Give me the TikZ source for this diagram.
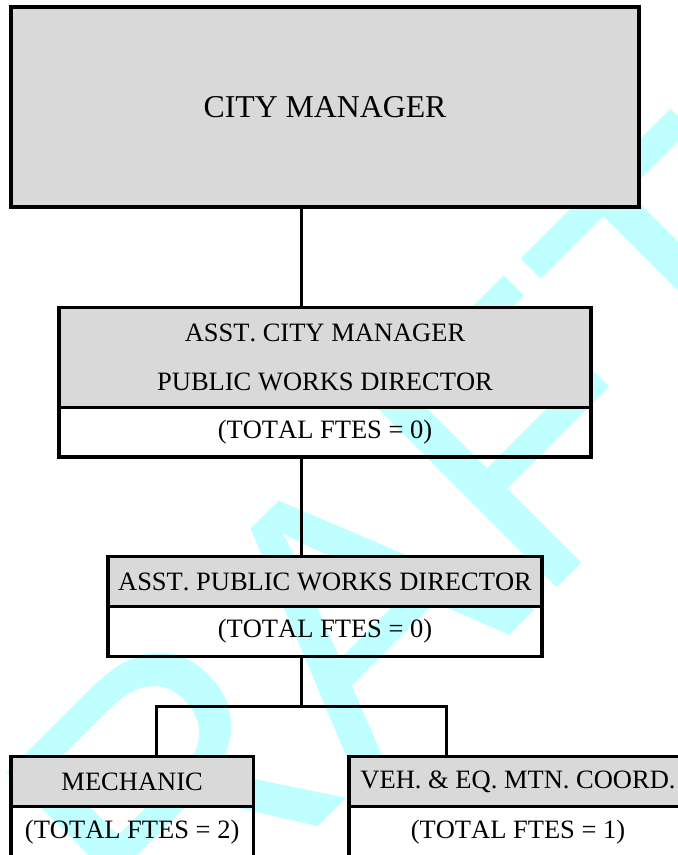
\documentclass[tikz,border=0pt]{standalone}
\usepackage{fontspec}
\setmainfont[Kerning=Off]{Liberation Serif}
\newfontfamily\wmfont[Kerning=Off]{Liberation Sans}
\definecolor{boxgray}{RGB}{217,217,217}
\definecolor{wmcyan}{RGB}{191,255,255}
\begin{document}
\begin{tikzpicture}[x=1pt,y=1pt,
  conn/.style={line width=2.9pt, draw=black},
  boxbase/.style={draw=black, line width=3.1pt, inner sep=0pt, outer sep=0pt,
    anchor=north west, align=center, font=\fontsize{26.5}{49.3}\selectfont},
  graybox/.style={boxbase, fill=boxgray},
  whitebox/.style={boxbase},
  watermark/.style={font=\wmfont\fontsize{375}{375}\selectfont, text=wmcyan,
    rotate=45, anchor=base, inner sep=0pt, outer sep=0pt}
]
\useasboundingbox (0,0) rectangle (678,855);
\clip (0,0) rectangle (678,855);

% watermark
\node[watermark] (wm) at (417.5,127.5) {DRAFT};

% boxes
\node[graybox, font=\fontsize{31.8}{36}\selectfont, minimum width=628pt, minimum height=200pt] (cm) at (11,848) {CITY MANAGER};

\node[graybox, minimum width=532pt, minimum height=100pt] (acm) at (59,547.5) {ASST. CITY MANAGER\\PUBLIC WORKS DIRECTOR};
\node[whitebox, minimum width=532pt, minimum height=49.5pt] (acmw) at (acm.south west) {(TOTAL FTES = 0)};

\node[graybox, minimum width=434pt, minimum height=50.5pt] (apwd) at (108,298.7) {ASST. PUBLIC WORKS DIRECTOR};
\node[whitebox, minimum width=434pt, minimum height=49.5pt] (apwdw) at (apwd.south west) {(TOTAL FTES = 0)};

\node[graybox, minimum width=242.3pt, minimum height=49.8pt] (mech) at (11,98.5) {MECHANIC};
\node[whitebox, minimum width=242.3pt, minimum height=51pt] (mechw) at (mech.south west) {(TOTAL FTES = 2)};

\node[graybox, minimum width=338pt, minimum height=49.8pt] (veh) at (349,98.5) {VEH. \& EQ. MTN. COORD.};
\node[whitebox, minimum width=338pt, minimum height=51pt] (vehw) at (veh.south west) {(TOTAL FTES = 1)};

% connector guides
\coordinate (spine) at (301.5,0);
\coordinate (dl) at (156.3,0);
\coordinate (dr) at (446.3,0);
\coordinate (jn) at (301.5,148.7);

\draw[conn] (cm.south -| spine) -- (acm.north -| spine);
\draw[conn] (acmw.south -| spine) -- (apwd.north -| spine);
\draw[conn] (apwdw.south -| spine) -- (jn);
\draw[conn] (mech.north -| dl) -- (dl |- jn) -- (dr |- jn) -- (veh.north -| dr);
\end{tikzpicture}
\end{document}
